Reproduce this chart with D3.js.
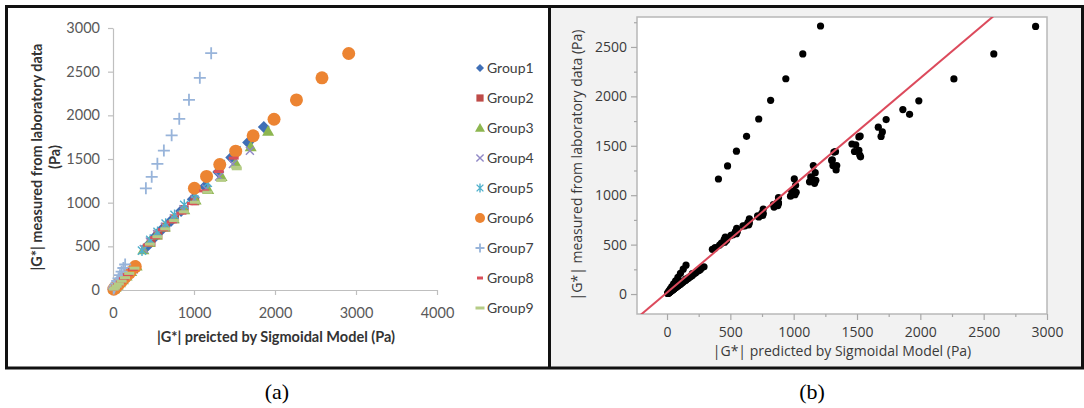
<!DOCTYPE html>
<html>
<head>
<meta charset="utf-8">
<script src="https://cdn.jsdelivr.net/npm/d3@7"></script>
<style>
  html, body { margin: 0; padding: 0; background: #fff; }
  svg { display: block; }
</style>
</head>
<body>
<svg id="fig" width="1084" height="408"></svg>
<script>
// |G*| predicted by the sigmoidal model vs. |G*| measured in the lab, [predicted, measured] in Pa
const groupNames = ["Group1", "Group2", "Group3", "Group4", "Group5", "Group6", "Group7", "Group8", "Group9"];
const group1 = [[1862,1866],[1668,1688],[1460,1518],[1300,1352],[1135,1185],[985,1040],[840,905],[715,790],[600,690],[505,595],[415,495],[235,228],[175,170],[128,125],[92,90],[62,61],[38,37],[20,19],[8,8]];
const group2 = [[1010,1020],[880,920],[760,815],[650,720],[555,630],[470,545],[255,240],[195,184],[145,138],[105,100],[72,69],[46,44],[26,25],[11,10]];
const group3 = [[1915,1818],[1700,1640],[1515,1455],[1340,1300],[1175,1150],[1020,1030],[880,920],[750,815],[640,720],[540,630],[450,545],[375,460],[292,275],[225,212],[168,160],[122,117],[86,82],[56,54],[32,31],[14,13]];
const group4 = [[1690,1595],[1480,1442],[1310,1300],[1150,1160],[1005,1040],[870,925],[750,820],[640,725],[545,640],[455,555],[380,470],[215,208],[160,154],[116,112],[82,79],[54,52],[32,31],[16,15],[6,6]];
const group5 = [[1525,1598],[1330,1440],[1170,1228],[1015,1100],[880,975],[760,860],[650,760],[550,665],[460,575],[358,452],[200,206],[148,152],[106,109],[74,76],[48,50],[28,29],[13,14]];
const group6 = [[2910,2708],[2580,2429],[2265,2176],[1988,1955],[1730,1765],[1515,1590],[1318,1436],[1155,1300],[1005,1165],[275,268],[205,198],[150,146],[108,105],[74,72],[47,46],[26,25],[10,10]];
const group7 = [[1212,2712],[1072,2429],[938,2178],[818,1960],[724,1771],[628,1596],[548,1445],[478,1296],[406,1164],[150,292],[128,252],[106,210],[86,170],[68,134],[52,103],[38,76],[26,52],[16,32],[8,16]];
const group8 = [[1490,1510],[1305,1357],[1125,1135],[975,990],[845,880],[725,780],[615,690],[520,600],[430,515],[245,236],[184,176],[134,129],[96,92],[64,62],[40,38],[21,20],[8,8]];
const group9 = [[1522,1405],[1528,1388],[1335,1255],[1165,1120],[1010,1005],[875,895],[755,795],[645,700],[548,610],[455,525],[265,250],[200,190],[148,141],[106,101],[72,69],[45,43],[24,23],[9,9]];
const groups = [group1, group2, group3, group4, group5, group6, group7, group8, group9];

const groupShapes = ["diamond", "square", "triangle", "cross", "star", "circle", "plus", "dash", "dash"];
const groupColors = ["#3F6FB6", "#BE4B48", "#8DB650", "#9088C6", "#4FB0CC", "#EC8432", "#98B4DA", "#D9505A", "#B5CC86"];

const xTicksA = [0, 1000, 2000, 3000, 4000];
const yTicksA = [0, 500, 1000, 1500, 2000, 2500, 3000];
const xTicksB = [0, 500, 1000, 1500, 2000, 2500, 3000];
const xMinorB = [250, 750, 1250, 1750, 2250, 2750];
const yTicksB = [0, 500, 1000, 1500, 2000, 2500];
const yMinorB = [250, 750, 1250, 1750, 2250, 2750];
// fitted line: measured = fitLine[0] + fitLine[1] * predicted
const fitLine = [15, 1.085];

const fmt = d3.format("d");
const svg = d3.select("#fig");

// ---------- panel backgrounds and frames ----------
svg.append("rect").attr("x", 551).attr("y", 8).attr("width", 531).attr("height", 359).attr("fill", "#F2F2F2");
svg.append("rect").attr("x", 6.5).attr("y", 6.5).attr("width", 1076).attr("height", 361.5)
  .attr("fill", "none").attr("stroke", "#111").attr("stroke-width", 3);
svg.append("line").attr("x1", 549.5).attr("x2", 549.5).attr("y1", 5).attr("y2", 369)
  .attr("stroke", "#111").attr("stroke-width", 3);

// ---------- marker drawing ----------
function drawMarker(sel, shape, color, s) {
  const h = s / 2;
  switch (shape) {
    case "diamond":
      sel.append("path").attr("d", `M0,${-h}L${h},0L0,${h}L${-h},0Z`).attr("fill", color); break;
    case "square":
      sel.append("rect").attr("x", -h * 0.8).attr("y", -h * 0.8).attr("width", s * 0.8).attr("height", s * 0.8).attr("fill", color); break;
    case "triangle":
      sel.append("path").attr("d", `M0,${-h}L${h},${h * 0.75}L${-h},${h * 0.75}Z`).attr("fill", color); break;
    case "cross":
      sel.append("path").attr("d", `M${-h * 0.8},${-h * 0.8}L${h * 0.8},${h * 0.8}M${-h * 0.8},${h * 0.8}L${h * 0.8},${-h * 0.8}`)
        .attr("stroke", color).attr("stroke-width", 1.4).attr("fill", "none"); break;
    case "star":
      sel.append("path").attr("d", `M${-h * 0.75},${-h * 0.75}L${h * 0.75},${h * 0.75}M${-h * 0.75},${h * 0.75}L${h * 0.75},${-h * 0.75}M0,${-h}L0,${h}`)
        .attr("stroke", color).attr("stroke-width", 1.4).attr("fill", "none"); break;
    case "circle":
      sel.append("circle").attr("r", h).attr("fill", color); break;
    case "plus":
      sel.append("path").attr("d", `M${-h},0L${h},0M0,${-h}L0,${h}`)
        .attr("stroke", color).attr("stroke-width", 1.8).attr("fill", "none"); break;
    case "dash":
      sel.append("rect").attr("x", -h).attr("y", -1.5).attr("width", s).attr("height", 3).attr("fill", color); break;
  }
}

// ---------- panel (a) ----------
const xA = d3.scaleLinear().domain([0, 4000]).range([113, 437]);
const yA = d3.scaleLinear().domain([0, 3000]).range([290, 28]);
const fontA = "Lato, 'Liberation Sans', sans-serif";

const gxA = svg.append("g").attr("transform", "translate(0,290)")
  .call(d3.axisBottom(xA).tickValues(xTicksA).tickFormat(fmt).tickSize(5).tickPadding(13).tickSizeOuter(0));
const gyA = svg.append("g").attr("transform", "translate(113,0)")
  .call(d3.axisLeft(yA).tickValues(yTicksA).tickFormat(fmt).tickSize(5).tickPadding(8).tickSizeOuter(0));
[gxA, gyA].forEach(g => {
  g.select(".domain").attr("stroke", "#BFBFBF").attr("stroke-width", 1.2);
  g.selectAll(".tick line").attr("stroke", "#BFBFBF").attr("stroke-width", 1.2);
  g.selectAll(".tick text").attr("fill", "#595959").style("font-family", fontA).style("font-size", "14.5px");
});

const markerSizesA = [12, 11, 12, 10, 11, 13, 12, 10, 10];
groups.forEach((pts, i) => {
  svg.append("g").selectAll("g").data(pts).join("g")
    .attr("transform", d => `translate(${xA(d[0])},${yA(d[1])})`)
    .each(function () { drawMarker(d3.select(this), groupShapes[i], groupColors[i], markerSizesA[i]); });
});

// axis titles (a)
svg.append("text").attr("x", 276).attr("y", 342).attr("text-anchor", "middle")
  .style("font-family", fontA).style("font-size", "14.5px").style("font-weight", "bold").attr("fill", "#333")
  .text("|G*| preicted by Sigmoidal Model (Pa)");
const ytA = svg.append("text").attr("transform", "translate(42,157) rotate(-90)").attr("text-anchor", "middle")
  .style("font-family", fontA).style("font-size", "14.5px").style("font-weight", "bold").attr("fill", "#333");
ytA.append("tspan").attr("x", 0).attr("dy", 0).text("|G*| measured from laboratory data");
ytA.append("tspan").attr("x", 0).attr("dy", 18).text("(Pa)");

// legend (a)
const legendSizes = [8, 9, 10, 9, 9, 10, 9, 6, 9];
groupNames.forEach((name, i) => {
  const g = svg.append("g").attr("transform", `translate(480,${68 + i * 30})`);
  drawMarker(g, groupShapes[i], groupColors[i], legendSizes[i]);
  g.append("text").attr("x", 7).attr("y", 0).attr("dy", "0.35em")
    .style("font-family", fontA).style("font-size", "14px").attr("fill", "#404040").text(name);
});

// ---------- panel (b) ----------
const xB = d3.scaleLinear().domain([-237, 3000]).range([637, 1047]);
const yB = d3.scaleLinear().domain([-202, 2803]).range([314, 17]);
const fontB = "'Open Sans', 'Noto Sans', sans-serif";

svg.append("rect").attr("x", 637).attr("y", 17).attr("width", 410).attr("height", 297)
  .attr("fill", "#fff").attr("stroke", "#B8B8B8").attr("stroke-width", 1.5);

const axesB = [
  svg.append("g").attr("transform", "translate(0,314)").call(d3.axisBottom(xB).tickValues(xTicksB).tickFormat(fmt).tickSize(6).tickPadding(7).tickSizeOuter(0)),
  svg.append("g").attr("transform", "translate(0,314)").call(d3.axisBottom(xB).tickValues(xMinorB).tickSize(3).tickFormat("").tickSizeOuter(0)),
  svg.append("g").attr("transform", "translate(637,0)").call(d3.axisLeft(yB).tickValues(yTicksB).tickFormat(fmt).tickSize(6).tickPadding(4).tickSizeOuter(0)),
  svg.append("g").attr("transform", "translate(637,0)").call(d3.axisLeft(yB).tickValues(yMinorB).tickSize(3).tickFormat("").tickSizeOuter(0))
];
axesB.forEach(g => {
  g.select(".domain").remove();
  g.selectAll(".tick line").attr("stroke", "#A8A8A8").attr("stroke-width", 1.2);
  g.selectAll(".tick text").attr("fill", "#3A3A3A").style("font-family", fontB).style("font-size", "14px");
});

svg.append("defs").append("clipPath").attr("id", "plotB")
  .append("rect").attr("x", 637).attr("y", 17).attr("width", 410).attr("height", 297);

const allPoints = groups.flat();
svg.append("g").selectAll("circle").data(allPoints).join("circle")
  .attr("cx", d => xB(d[0])).attr("cy", d => yB(d[1])).attr("r", 3.6).attr("fill", "#000");

const fitX = [-300, 3100];
svg.append("path").attr("clip-path", "url(#plotB)")
  .attr("d", d3.line().x(d => xB(d)).y(d => yB(fitLine[0] + fitLine[1] * d))(fitX))
  .attr("stroke", "#DC4A5C").attr("stroke-width", 2).attr("fill", "none");

svg.append("text").attr("x", 842).attr("y", 356).attr("text-anchor", "middle")
  .style("font-family", fontB).style("font-size", "14px").attr("fill", "#3A3A3A")
  .text("|G*| predicted by Sigmoidal Model (Pa)");
svg.append("text").attr("transform", "translate(582,165) rotate(-90)").attr("text-anchor", "middle")
  .style("font-family", fontB).style("font-size", "14px").attr("fill", "#3A3A3A")
  .text("|G*| measured from laboratory data (Pa)");

// ---------- sub-figure captions ----------
const fontCap = "'Liberation Serif', 'Times New Roman', serif";
svg.append("text").attr("x", 277).attr("y", 399).attr("text-anchor", "middle")
  .style("font-family", fontCap).style("font-size", "22px").attr("fill", "#000").text("(a)");
svg.append("text").attr("x", 812).attr("y", 399).attr("text-anchor", "middle")
  .style("font-family", fontCap).style("font-size", "22px").attr("fill", "#000").text("(b)");
</script>
</body>
</html>
